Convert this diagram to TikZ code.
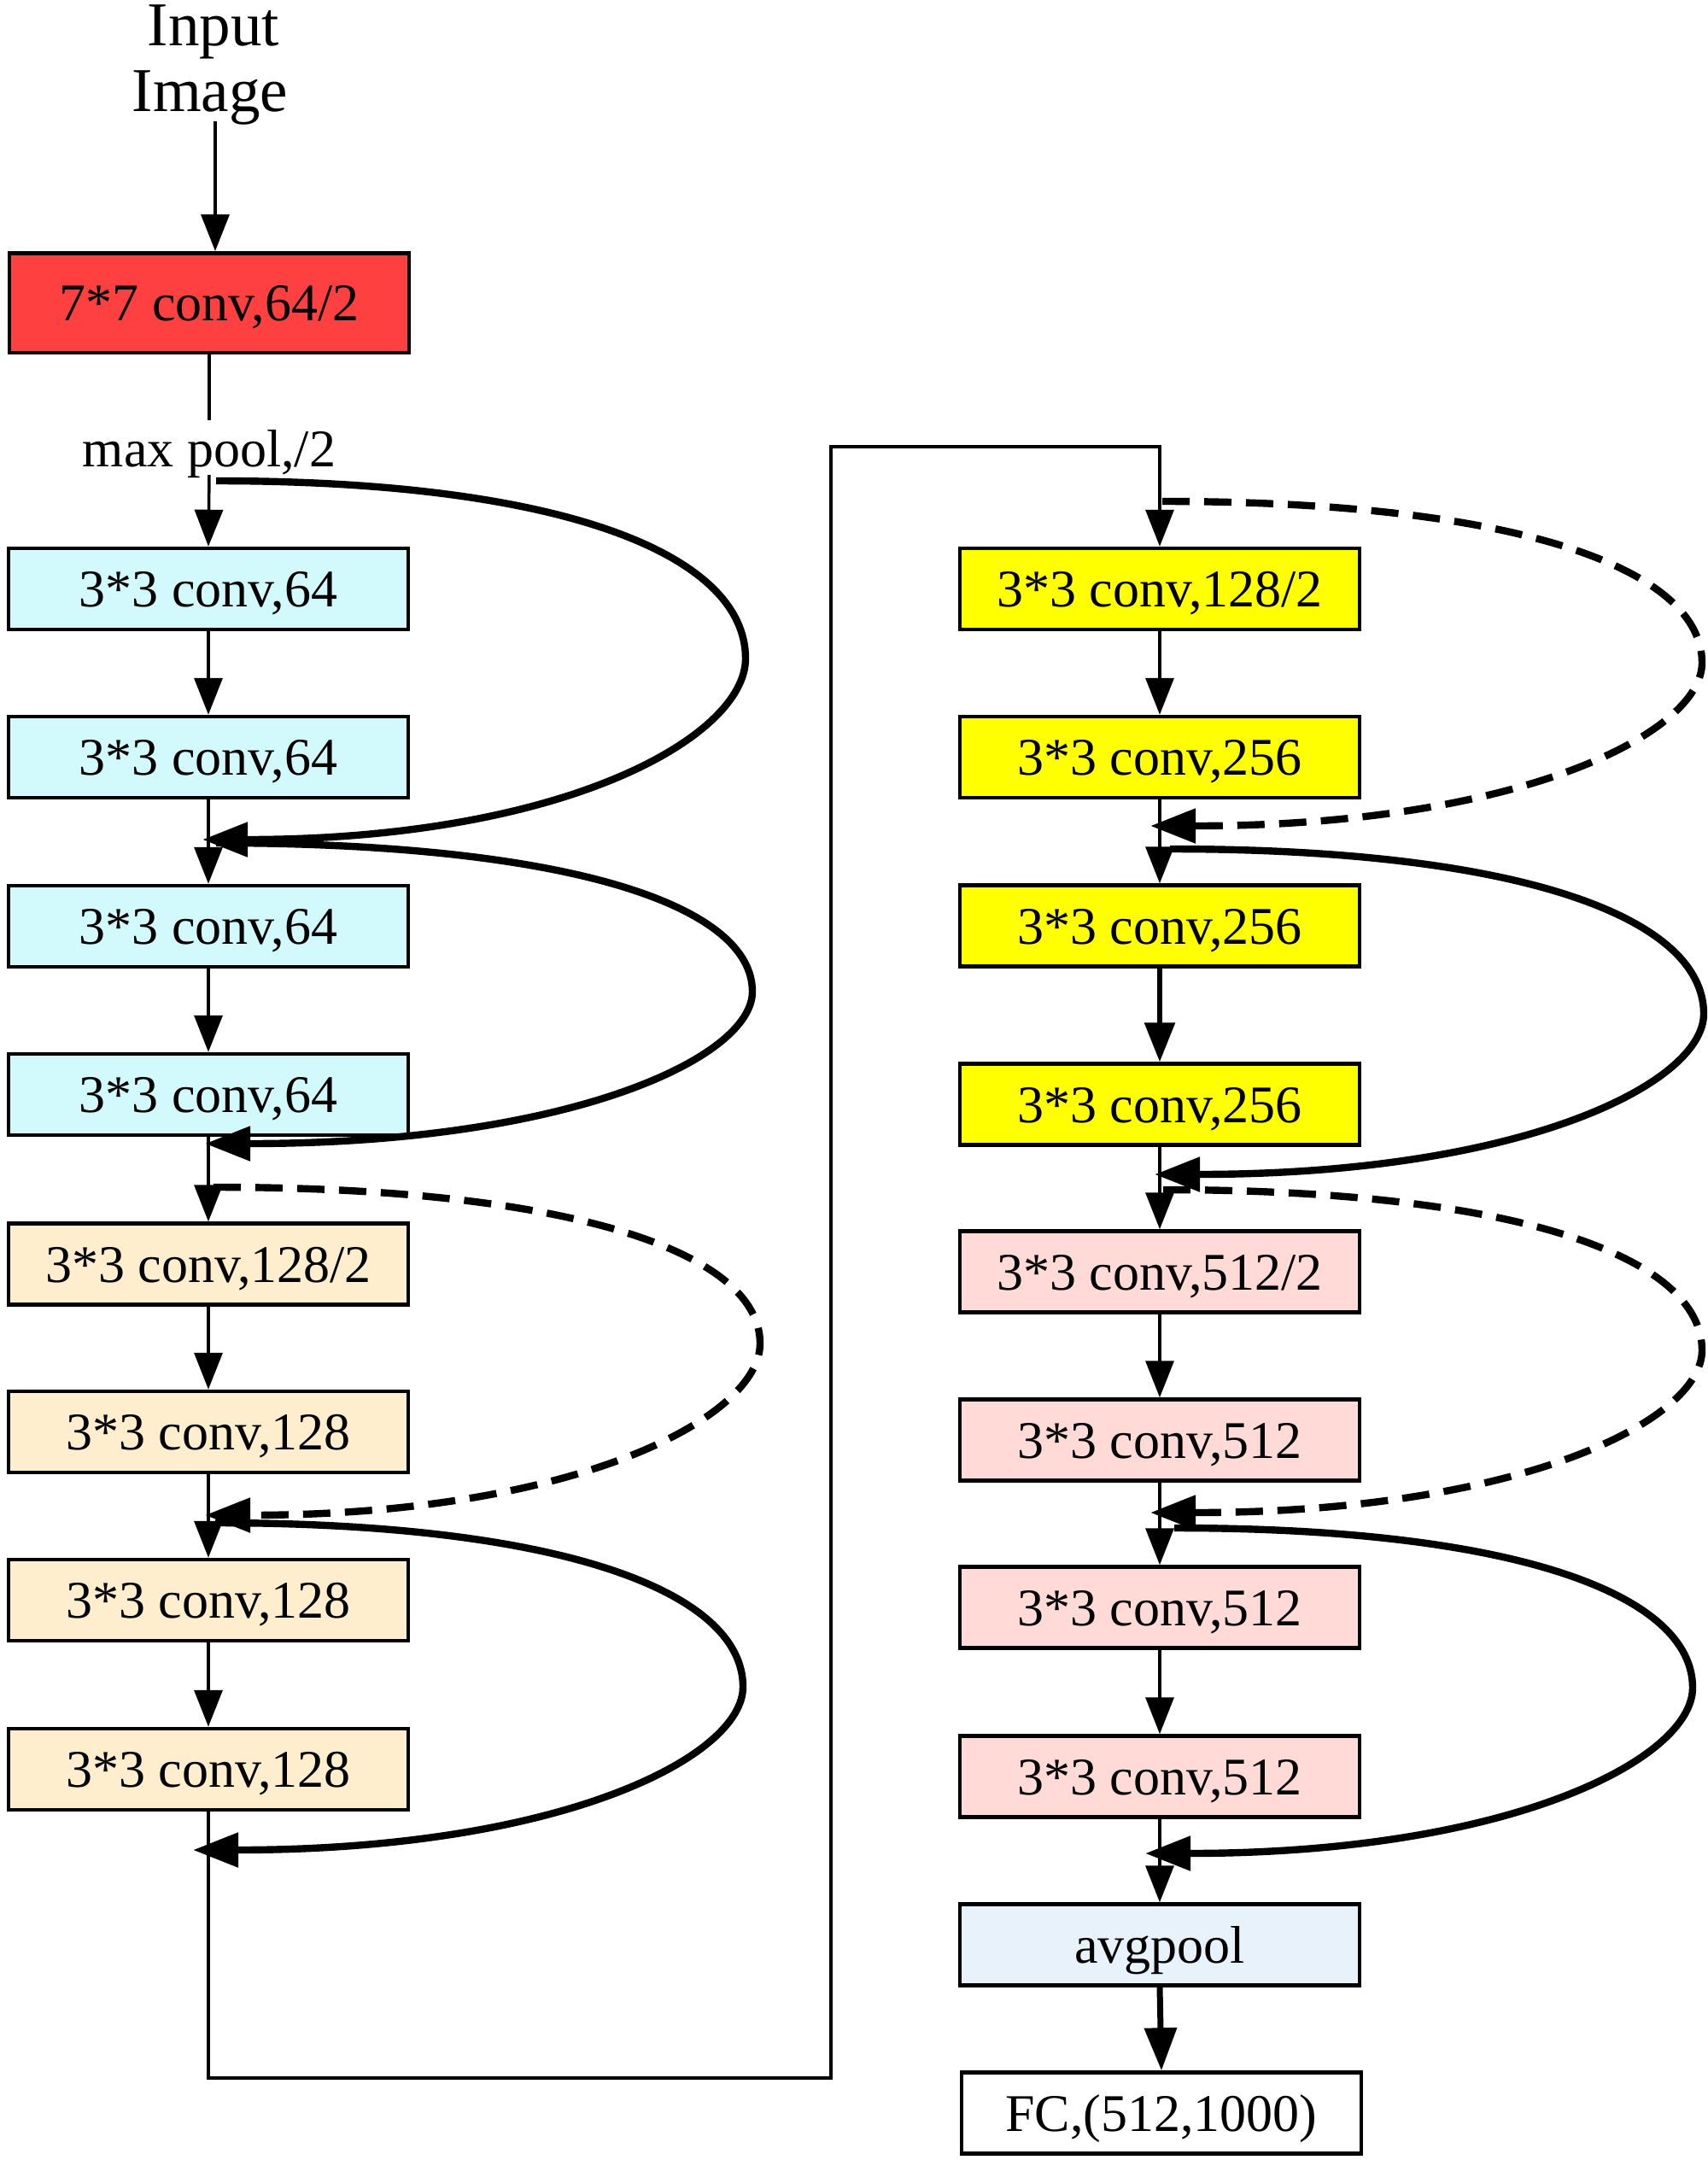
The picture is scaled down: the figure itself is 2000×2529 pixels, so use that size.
\documentclass[tikz,border=0pt]{standalone}
\usepackage{fontspec}
\setmainfont{Liberation Serif}
\usetikzlibrary{arrows.meta}
\definecolor{cred}{RGB}{255,64,64}
\definecolor{ccyan}{RGB}{210,250,252}
\definecolor{cbeige}{RGB}{255,238,206}
\definecolor{cyell}{RGB}{255,255,0}
\definecolor{cpink}{RGB}{255,218,214}
\definecolor{cblue}{RGB}{232,242,250}
\begin{document}
\begin{tikzpicture}[x=0.5pt,y=-0.5pt,
  box/.style={draw=black, line width=2.25pt, minimum width=234pt, minimum height=47.5pt,
    inner sep=0pt, font=\fontsize{31}{36}\selectfont, text height=21pt, text depth=0pt},
  flow/.style={line width=1.75pt, -{Triangle[length=21.5pt,width=16.5pt]}},
  thickflow/.style={line width=3pt, -{Triangle[length=23pt,width=17.5pt]}},
  plain/.style={line width=1.75pt},
  skip/.style={line width=4.2pt, -{Triangle[length=26.5pt,width=19.5pt]}},
  skipd/.style={skip, dash pattern=on 16pt off 8.5pt},
  lbl/.style={font=\fontsize{31}{36}\selectfont, inner sep=0pt, anchor=base},
  big/.style={font=\fontsize{36.5}{40}\selectfont, inner sep=0pt, anchor=base},
]
\useasboundingbox (0,0) rectangle (2000,2529);

% input
\node[big] (in1) at (250,53) {Input};
\node[big] (in2) at (246,130) {Image};
\node[box, fill=cred, minimum height=58.25pt] (red) at (245,354.5) {7*7 conv,64/2};
\node[lbl] (mp) at (245,546) {max pool,/2};

% left column
\node[box, fill=ccyan] (c1) at (244,689.5) {3*3 conv,64};
\node[box, fill=ccyan] (c2) at (244,886.5) {3*3 conv,64};
\node[box, fill=ccyan] (c3) at (244,1084.5) {3*3 conv,64};
\node[box, fill=ccyan] (c4) at (244,1281.5) {3*3 conv,64};
\node[box, fill=cbeige] (b1) at (244,1480) {3*3 conv,128/2};
\node[box, fill=cbeige] (b2) at (244,1676.5) {3*3 conv,128};
\node[box, fill=cbeige] (b3) at (244,1873.5) {3*3 conv,128};
\node[box, fill=cbeige] (b4) at (244,2071.5) {3*3 conv,128};

% right column
\node[box, fill=cyell] (y1) at (1358,689.5) {3*3 conv,128/2};
\node[box, fill=cyell] (y2) at (1358,886.5) {3*3 conv,256};
\node[box, fill=cyell] (y3) at (1358,1084) {3*3 conv,256};
\node[box, fill=cyell] (y4) at (1358,1293) {3*3 conv,256};
\node[box, fill=cpink] (p1) at (1358,1489) {3*3 conv,512/2};
\node[box, fill=cpink] (p2) at (1358,1686) {3*3 conv,512};
\node[box, fill=cpink] (p3) at (1358,1882) {3*3 conv,512};
\node[box, fill=cpink] (p4) at (1358,2080) {3*3 conv,512};
\node[box, fill=cblue] (av) at (1358,2277) {avgpool};
\node[box, fill=white] (fc) at (1360,2474) {FC,(512,1000)};

% main flow, top
\coordinate (ia) at (252,142);
\draw[flow] (ia) -- (ia |- red.north);
\coordinate (m1) at (245,492);
\coordinate (m2) at (245,556);
\draw[plain] (red.south) -- (m1);
\draw[flow] (m2) -- (c1.north);
\draw[flow] (c1.south) -- (c2.north);
\draw[flow] (c2.south) -- (c3.north);
\draw[flow] (c3.south) -- (c4.north);
\draw[flow] (c4.south) -- (b1.north);
\draw[flow] (b1.south) -- (b2.north);
\draw[flow] (b2.south) -- (b3.north);
\draw[flow] (b3.south) -- (b4.north);

% link between columns
\coordinate (k1) at (244,2433);
\coordinate (k2) at (973,523);
\draw[flow] (b4.south) -- (k1) -| (k2) -| (y1.north);

% right flow
\draw[flow] (y1.south) -- (y2.north);
\draw[flow] (y2.south) -- (y3.north);
\draw[thickflow] (y3.south) -- (y4.north);
\draw[flow] (y4.south) -- (p1.north);
\draw[flow] (p1.south) -- (p2.north);
\draw[flow] (p2.south) -- (p3.north);
\draw[flow] (p3.south) -- (p4.north);
\draw[flow] (p4.south) -- (av.north);
\draw[line width=3.5pt, -{Triangle[length=25pt,width=18.5pt]}] (av.south) -- (fc.north);

% skip connections, left
\coordinate (s1) at (253,563);  \coordinate (e1) at (237,983);
\draw[skip] (s1) .. controls (668,563) and (873,652) .. (873,771)
  .. controls (873,862) and (663,983) .. (e1);
\coordinate (s2) at (253,987);  \coordinate (e2) at (240,1339);
\draw[skip] (s2) .. controls (674,987) and (881,1062) .. (881,1161)
  .. controls (881,1238) and (669,1339) .. (e2);
\coordinate (s3) at (250,1390); \coordinate (e3) at (240,1774);
\draw[skipd] (s3) .. controls (679,1390) and (890,1469) .. (890,1573)
  .. controls (890,1659) and (676,1774) .. (e3);
\coordinate (s4) at (252,1783); \coordinate (e4) at (226,2166);
\draw[skip] (s4) .. controls (666,1783) and (870,1866) .. (870,1975)
  .. controls (870,2057) and (657,2166) .. (e4);

% skip connections, right
\coordinate (s5) at (1361,587); \coordinate (e5) at (1347,967);
\draw[skipd] (s5) .. controls (1784,587) and (1993,668) .. (1993,776)
  .. controls (1993,858) and (1780,967) .. (e5);
\coordinate (s6) at (1370,994); \coordinate (e6) at (1352,1375);
\draw[skip] (s6) .. controls (1790,994) and (1995,1077) .. (1995,1187)
  .. controls (1995,1268) and (1784,1375) .. (e6);
\coordinate (s7) at (1362,1393); \coordinate (e7) at (1347,1771);
\draw[skipd] (s7) .. controls (1785,1393) and (1993,1474) .. (1993,1581)
  .. controls (1993,1663) and (1780,1771) .. (e7);
\coordinate (s8) at (1375,1789); \coordinate (e8) at (1341,2170);
\draw[skip] (s8) .. controls (1782,1789) and (1982,1869) .. (1982,1976)
  .. controls (1982,2059) and (1770,2170) .. (e8);
\end{tikzpicture}
\end{document}
